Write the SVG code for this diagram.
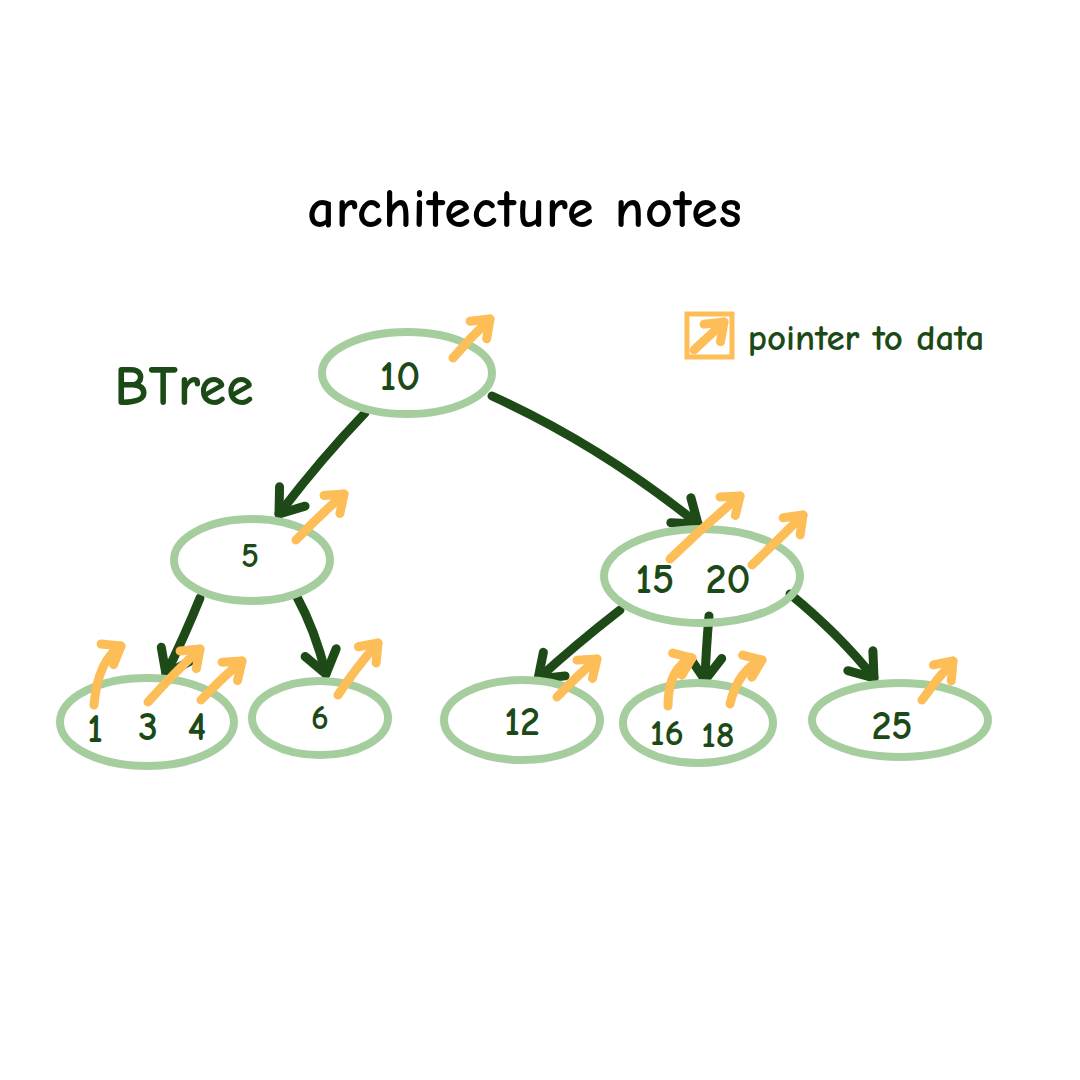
<svg xmlns="http://www.w3.org/2000/svg" width="1080" height="1080" viewBox="0 0 1080 1080">
<style>
.node{fill:none;stroke:#a5cd9e;stroke-width:8}
.lbl{font-family:"Comic Neue","DejaVu Sans","Liberation Sans",sans-serif;fill:#1c4a17;text-anchor:middle;font-weight:bold}
.edge{fill:none;stroke:#1d4a17;stroke-width:9;stroke-linecap:round}
.ptr{fill:none;stroke:#fdbd57;stroke-width:9;stroke-linecap:round}
</style>
<defs>
<marker id="dk" markerUnits="userSpaceOnUse" markerWidth="60" markerHeight="60" viewBox="-30 -30 60 60" refX="0" refY="0" orient="auto" overflow="visible">
<path d="M-22,-16 L0,0 L-22,16" fill="none" stroke="#1d4a17" stroke-width="9" stroke-linecap="round" stroke-linejoin="round"/>
</marker>
<marker id="or" markerUnits="userSpaceOnUse" markerWidth="60" markerHeight="60" viewBox="-30 -30 60 60" refX="0" refY="0" orient="auto" overflow="visible">
<path d="M-16,-12 L0,0 L-16,12" fill="none" stroke="#fdbd57" stroke-width="9" stroke-linecap="round" stroke-linejoin="round"/>
</marker>
</defs>
<rect width="1080" height="1080" fill="#ffffff"/>
<text x="525" y="227" font-family="'Comic Neue','DejaVu Sans','Liberation Sans',sans-serif" font-size="54" font-weight="bold" fill="#000" text-anchor="middle" letter-spacing="1">architecture notes</text>
<text x="184" y="405" class="lbl" font-size="56">BTree</text>
<g id="legend">
<rect x="687" y="314" width="45" height="43" fill="none" stroke="#fdbd57" stroke-width="5"/>
<path class="ptr" d="M694,350 L724,322" marker-end="url(#or)"/>
<text x="866" y="350" class="lbl" font-size="37">pointer to data</text>
</g>
<g id="connectors">
<path class="edge" d="M365,413 Q320,460 279,514" marker-end="url(#dk)"/>
<path class="edge" d="M492,396 Q600,445 698,524" marker-end="url(#dk)"/>
<path class="edge" d="M200,598 Q185,635 166,674" marker-end="url(#dk)"/>
<path class="edge" d="M297,597 Q315,630 326,674" marker-end="url(#dk)"/>
<path class="edge" d="M620,610 Q575,645 538,679" marker-end="url(#dk)"/>
<path class="edge" d="M709,616 Q706,650 705,680" marker-end="url(#dk)"/>
<path class="edge" d="M790,594 Q840,635 874,678" marker-end="url(#dk)"/>
</g>
<g id="n10">
<ellipse class="node" cx="407" cy="373" rx="85" ry="41"/>
<text x="400" y="390" class="lbl" font-size="42">10</text>
<path class="ptr" d="M453,358 Q470,338 490,319" marker-end="url(#or)"/>
</g>
<g id="n5">
<ellipse class="node" cx="252" cy="560" rx="78" ry="41"/>
<text x="250" y="567" class="lbl" font-size="34">5</text>
<path class="ptr" d="M296,540 Q320,515 344,494" marker-end="url(#or)"/>
</g>
<g id="n1520">
<ellipse class="node" cx="702" cy="576" rx="98" ry="47"/>
<text x="655" y="593" class="lbl" font-size="42">15</text>
<text x="728" y="593" class="lbl" font-size="42">20</text>
<path class="ptr" d="M670,559 Q705,525 740,496" marker-end="url(#or)"/>
<path class="ptr" d="M752,565 Q778,540 803,515" marker-end="url(#or)"/>
</g>
<g id="n134">
<ellipse class="node" cx="147" cy="722" rx="87" ry="44"/>
<text x="95" y="742" class="lbl" font-size="40">1</text>
<text x="148" y="740" class="lbl" font-size="40">3</text>
<text x="197" y="740" class="lbl" font-size="40">4</text>
<path class="ptr" d="M94,705 Q98,660 121,646" marker-end="url(#or)"/>
<path class="ptr" d="M148,702 Q175,672 200,649" marker-end="url(#or)"/>
<path class="ptr" d="M201,700 Q222,678 242,661" marker-end="url(#or)"/>
</g>
<g id="n6">
<ellipse class="node" cx="320" cy="718" rx="68" ry="37"/>
<text x="320" y="729" class="lbl" font-size="34">6</text>
<path class="ptr" d="M338,695 Q358,665 378,643" marker-end="url(#or)"/>
</g>
<g id="n12">
<ellipse class="node" cx="522" cy="720" rx="78" ry="40"/>
<text x="522" y="735" class="lbl" font-size="40">12</text>
<path class="ptr" d="M557,697 Q578,675 597,659" marker-end="url(#or)"/>
</g>
<g id="n1618">
<ellipse class="node" cx="698" cy="723" rx="75" ry="40"/>
<text x="667" y="745" class="lbl" font-size="37">16</text>
<text x="718" y="747" class="lbl" font-size="37">18</text>
<path class="ptr" d="M668,706 Q668,668 692,658" marker-end="url(#or)"/>
<path class="ptr" d="M730,704 Q738,670 762,660" marker-end="url(#or)"/>
</g>
<g id="n25">
<ellipse class="node" cx="900" cy="720" rx="88" ry="37"/>
<text x="892" y="739" class="lbl" font-size="40">25</text>
<path class="ptr" d="M922,700 Q936,680 953,661" marker-end="url(#or)"/>
</g>
</svg>
